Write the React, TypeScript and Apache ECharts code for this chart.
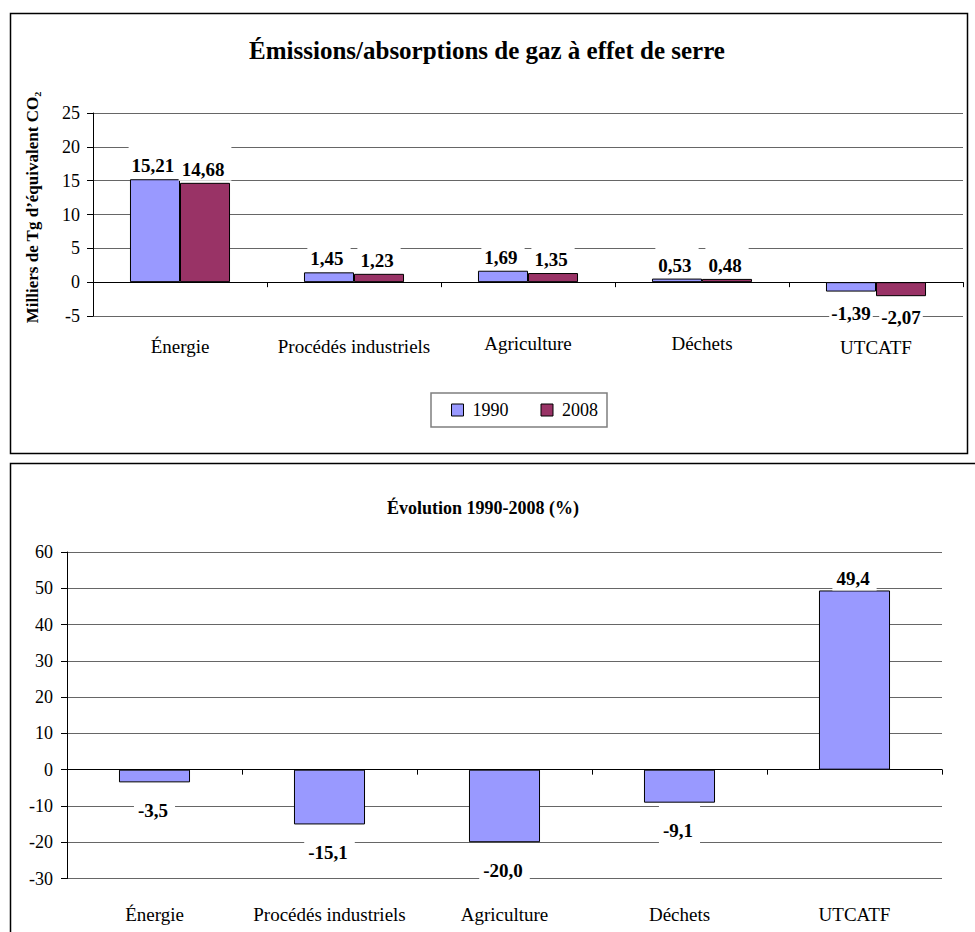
import React, { useEffect, useRef } from "react";
import * as echarts from "echarts";

const categories = ["Énergie", "Procédés industriels", "Agriculture", "Déchets", "UTCATF"];
const seriesNames = ["1990", "2008"];
const emissions1990 = [15.21, 1.45, 1.69, 0.53, -1.39];
const emissions2008 = [14.68, 1.23, 1.35, 0.48, -2.07];
const evolution = [-3.5, -15.1, -20.0, -9.1, 49.4];
const topAxis = { min: -5, max: 25, interval: 5 };
const bottomAxis = { min: -30, max: 60, interval: 10 };
const topTitle = "Émissions/absorptions de gaz à effet de serre";
const bottomTitle = "Évolution 1990-2008 (%)";
const yAxisName = "Milliers de Tg d’équivalent CO₂";

const FONT = '"Liberation Serif", "Times New Roman", serif';
const C1990 = "#9999FF";
const C2008 = "#993366";

const fmt = (v: number, d: number) => v.toFixed(d).replace(".", ",");

function makeData(values: number[], pos: any, neg: any) {
  return values.map((v) => ({ value: v, label: v < 0 ? neg : pos }));
}

export default function App() {
  const ref = useRef<HTMLDivElement>(null);
  useEffect(() => {
    if (!ref.current) return;
    const chart = echarts.init(ref.current, null, { renderer: "svg" });

    const labelBase = {
      show: true,
      fontFamily: FONT,
      fontSize: 19,
      fontWeight: "bold",
      color: "#000",
      lineHeight: 19,
      backgroundColor: "#fff",
    };
    const topPos = { ...labelBase, position: "top", distance: 2, padding: [14, 7, 2, 3] };
    const topNeg = { ...labelBase, position: "bottom", distance: 2, padding: [10, 2, 2, 2] };
    const botPos = { ...labelBase, position: "top", distance: 0, padding: [8, 7, 2, 4] };
    const botNeg = { ...labelBase, position: "bottom", distance: 3, padding: [15.5, 7, 3, 4] };

    const catText = { fontFamily: FONT, fontSize: 19, color: "#000", lineHeight: 19 };
    // small vertical staggering of the category labels in the upper chart
    const topCatShift = [7, 7, 1, 0, 9];
    const topRich: any = {};
    topCatShift.forEach((s, i) => {
      topRich["c" + i] = { ...catText, padding: [s, 0, 0, 0] };
    });

    const xAxisCommon = (margin: number) => ({
      type: "category",
      data: categories,
      axisLine: { onZero: true, lineStyle: { color: "#000", width: 1 } },
      axisTick: { show: true, length: 5, lineStyle: { color: "#000" } },
      axisLabel: {
        interval: 0,
        margin,
        ...catText,
      },
      splitLine: { show: false },
    });
    const yAxisCommon = (ax: any, margin: number) => ({
      type: "value",
      min: ax.min,
      max: ax.max,
      interval: ax.interval,
      axisLine: { show: true, lineStyle: { color: "#000", width: 1 } },
      axisTick: { show: true, length: 6, lineStyle: { color: "#000" } },
      axisLabel: {
        margin,
        fontFamily: FONT,
        fontSize: 18,
        color: "#000",
      },
      splitLine: { show: true, lineStyle: { color: "#666", width: 1 } },
    });

    const topX: any = xAxisCommon(17.5);
    topX.axisLabel = {
      ...topX.axisLabel,
      formatter: (v: string, i: number) => `{c${i}|${v}}`,
      rich: topRich,
    };

    const option: any = {
      animation: false,
      backgroundColor: "#fff",
      graphic: [
        {
          type: "rect",
          shape: { x: 10.5, y: 13.5, width: 957, height: 440 },
          style: { fill: "none", stroke: "#000", lineWidth: 1.5 },
          silent: true,
        },
        {
          type: "rect",
          shape: { x: 10.5, y: 463.5, width: 990, height: 500 },
          style: { fill: "none", stroke: "#000", lineWidth: 1.5 },
          silent: true,
        },
        {
          type: "text",
          x: 487,
          y: 50,
          style: {
            text: topTitle,
            align: "center",
            verticalAlign: "middle",
            fontFamily: FONT,
            fontSize: 25,
            fontWeight: "bold",
            fill: "#000",
          },
        },
        {
          type: "text",
          x: 483,
          y: 508,
          style: {
            text: bottomTitle,
            align: "center",
            verticalAlign: "middle",
            fontFamily: FONT,
            fontSize: 18,
            fontWeight: "bold",
            fill: "#000",
          },
        },
      ],
      legend: {
        data: seriesNames,
        left: 431,
        top: 393,
        orient: "horizontal",
        padding: [8, 9, 8, 20],
        itemGap: 32,
        itemWidth: 12,
        itemHeight: 12,
        icon: "rect",
        borderColor: "#7f7f7f",
        borderWidth: 1.5,
        itemStyle: { borderColor: "#000", borderWidth: 1 },
        textStyle: { fontFamily: FONT, fontSize: 18, color: "#000", padding: [0, 0, 0, 4] },
      },
      grid: [
        { left: 93, top: 113, width: 870, height: 203, outerBoundsMode: "none" },
        { left: 67, top: 552, width: 875, height: 326.5, outerBoundsMode: "none" },
      ],
      xAxis: [
        { ...topX, gridIndex: 0 },
        { ...xAxisCommon(26), gridIndex: 1 },
      ],
      yAxis: [
        {
          ...yAxisCommon(topAxis, 13),
          gridIndex: 0,
          name: yAxisName,
          nameLocation: "middle",
          nameRotate: 90,
          nameGap: 52,
          nameTextStyle: {
            fontFamily: FONT,
            fontSize: 17,
            fontWeight: "bold",
            color: "#000",
            padding: [0, 0, 0, 14],
          },
        },
        { ...yAxisCommon(bottomAxis, 14), gridIndex: 1 },
      ],
      series: [
        {
          name: seriesNames[0],
          type: "bar",
          xAxisIndex: 0,
          yAxisIndex: 0,
          barGap: "0%",
          barCategoryGap: "42.5%",
          itemStyle: { color: C1990, borderColor: "#000", borderWidth: 1 },
          label: { ...topPos, formatter: (p: any) => fmt(p.value, 2) },
          data: makeData(emissions1990, topPos, topNeg),
        },
        {
          name: seriesNames[1],
          type: "bar",
          xAxisIndex: 0,
          yAxisIndex: 0,
          barGap: "0%",
          barCategoryGap: "42.5%",
          itemStyle: { color: C2008, borderColor: "#000", borderWidth: 1 },
          label: { ...topPos, formatter: (p: any) => fmt(p.value, 2) },
          data: makeData(emissions2008, topPos, topNeg),
        },
        {
          name: "Évolution",
          type: "bar",
          xAxisIndex: 1,
          yAxisIndex: 1,
          barCategoryGap: "59.4%",
          itemStyle: { color: C1990, borderColor: "#000", borderWidth: 1 },
          label: { ...botPos, formatter: (p: any) => fmt(p.value, 1) },
          data: makeData(evolution, botPos, botNeg),
        },
      ],
    };
    chart.setOption(option);
    return () => chart.dispose();
  }, []);

  return (
    <div
      ref={ref}
      style={{ position: "fixed", left: 0, top: 0, width: 975, height: 932, background: "#fff" }}
    />
  );
}
